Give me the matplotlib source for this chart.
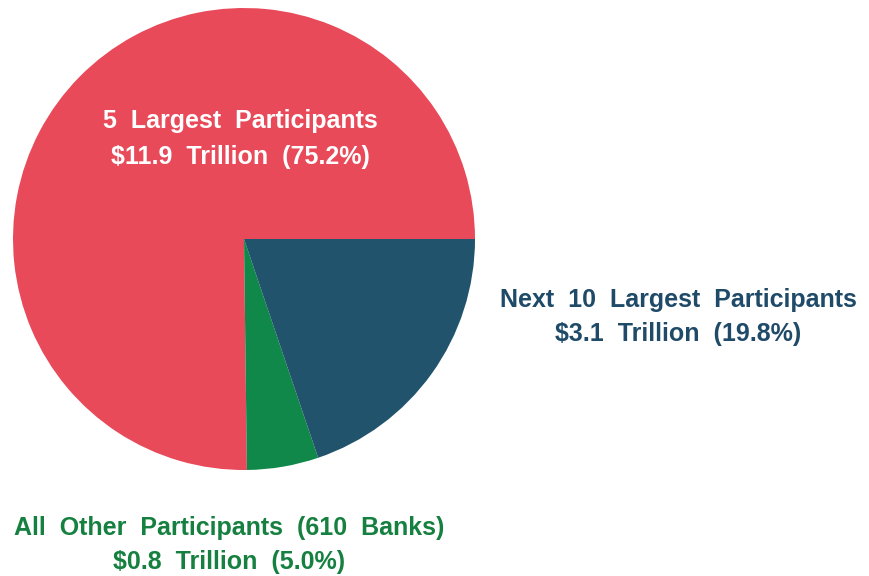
import matplotlib
matplotlib.use("Agg")
import matplotlib.pyplot as plt

# Share of activity by participant group
groups = ["5 Largest Participants", "Next 10 Largest Participants",
          "All Other Participants (610 Banks)"]
amounts = [11.9, 3.1, 0.8]          # trillions of dollars
shares = [75.2, 19.8, 5.0]          # percent of total
colors = ["#E84A5A", "#21546C", "#10884A"]
text_colors = ["white", "#1F4A68", "#15803F"]

W, H = 869, 576
fig = plt.figure(figsize=(W / 100, H / 100), dpi=100)
ax = fig.add_axes([0, 0, 1, 1])

# Order around the circle (counter-clockwise from 3 o'clock): largest, others, next 10
order = [0, 2, 1]
ax.pie([shares[i] for i in order], colors=[colors[i] for i in order],
       startangle=0, counterclock=True, center=(244, H - 239), radius=231,
       wedgeprops=dict(linewidth=0), frame=True)
ax.set_xlim(0, W)
ax.set_ylim(0, H)
ax.set_aspect("equal")
ax.axis("off")

font = dict(family=["Liberation Sans", "DejaVu Sans"], weight="bold",
            fontsize=18, ha="center", va="center")


def spaced(s):
    return s.replace(" ", "  ")


positions = [(240, H - 139), (678, H - 317), (229, H - 545)]
spacings = [1.6, 1.5, 1.5]
for i, (x, y) in enumerate(positions):
    txt = spaced(groups[i]) + "\n" + f"${amounts[i]:.1f}  Trillion  ({shares[i]:.1f}%)"
    ax.text(x, y, txt, color=text_colors[i], linespacing=spacings[i], **font)

fig.savefig("out.png", dpi=100)
